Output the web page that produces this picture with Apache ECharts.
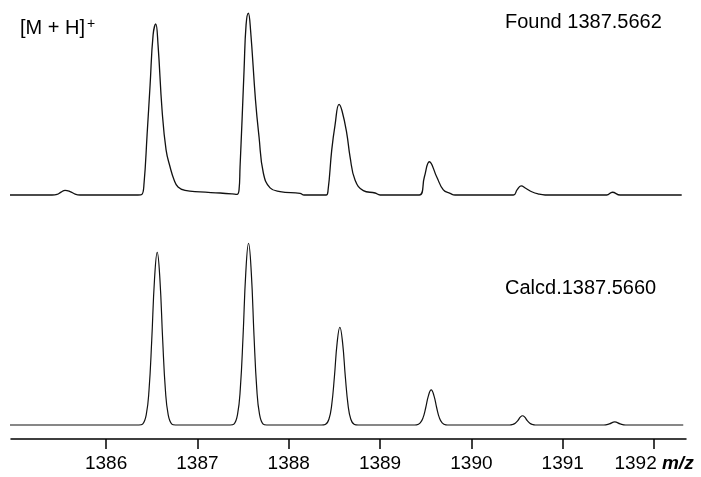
<!DOCTYPE html>
<html>
<head>
<meta charset="utf-8">
<script src="https://cdn.jsdelivr.net/npm/echarts@6/dist/echarts.min.js"></script>
<style>
html,body{margin:0;padding:0;background:#fff;}
#chart{width:701px;height:477px;}
</style>
</head>
<body>
<div id="chart"></div>
<script>
var foundMz = [1384.930, 1385.409, 1385.463, 1385.507, 1385.551, 1385.606, 1385.661, 1385.715,
  1386.350, 1386.391, 1386.416, 1386.449, 1386.482, 1386.515, 1386.544, 1386.569, 1386.613, 1386.657,
  1386.701, 1386.745, 1386.788, 1386.865, 1387.029, 1387.248, 1387.380, 1387.434,
  1387.456, 1387.467, 1387.489, 1387.511, 1387.533, 1387.558, 1387.582, 1387.636, 1387.675, 1387.722,
  1387.796, 1387.905, 1388.124, 1388.168,
  1388.409, 1388.431, 1388.471, 1388.507, 1388.551, 1388.584, 1388.635, 1388.672, 1388.726, 1388.817,
  1388.946, 1389.000,
  1389.430, 1389.485, 1389.540, 1389.621, 1389.693, 1389.767, 1389.821,
  1390.460, 1390.500, 1390.544, 1390.599, 1390.661, 1390.730, 1390.807,
  1391.482, 1391.544, 1391.628, 1392.303];
var foundIntensity = [0, 0, 0.3, 1.6, 2.6, 1.9, 0.5, 0,
  0, 0.3, 6.6, 33.0, 60.5, 88.1, 94.1, 82.6, 46.8, 24.8,
  15.4, 8.3, 4.4, 2.5, 1.7, 1.1, 0.6, 0.3,
  2.8, 15.4, 41.3, 68.8, 93.6, 100, 90.8, 52.3, 31.9, 12.1,
  3.9, 1.9, 0.9, 0,
  0, 2.8, 24.8, 38.5, 49.9, 46.2, 34.1, 20.9, 8.3, 2.4,
  1.1, 0,
  0, 9.9, 18.3, 9.9, 2.8, 0.9, 0,
  0, 2.8, 5.0, 3.6, 1.8, 0.6, 0,
  0, 1.5, 0, 0];

// Calculated isotope pattern
var calcdMz = [1384.940,
  1386.36, 1386.40, 1386.44, 1386.47, 1386.50, 1386.53, 1386.56, 1386.59, 1386.62, 1386.65, 1386.68, 1386.72, 1386.76,
  1387.36, 1387.40, 1387.44, 1387.47, 1387.50, 1387.53, 1387.56, 1387.59, 1387.62, 1387.65, 1387.68, 1387.72, 1387.76,
  1388.36, 1388.40, 1388.44, 1388.47, 1388.50, 1388.53, 1388.56, 1388.59, 1388.62, 1388.65, 1388.68, 1388.72, 1388.76,
  1389.36, 1389.40, 1389.44, 1389.47, 1389.50, 1389.53, 1389.56, 1389.59, 1389.62, 1389.65, 1389.68, 1389.72, 1389.76,
  1390.42, 1390.45, 1390.48, 1390.51, 1390.535, 1390.56, 1390.585, 1390.61, 1390.64, 1390.67, 1390.70,
  1391.45, 1391.51, 1391.57, 1391.63, 1391.69,
  1392.320];
var calcdIntensity = [0,
  0, 0.5, 5.7, 19.0, 46.6, 79.8, 95.0, 79.8, 46.6, 19.0, 5.7, 0.5, 0,
  0, 0.5, 6.0, 20.0, 49.0, 84.0, 100, 84.0, 49.0, 20.0, 6.0, 0.5, 0,
  0, 0.3, 3.2, 10.8, 26.4, 45.2, 53.8, 45.2, 26.4, 10.8, 3.2, 0.3, 0,
  0, 0.1, 1.2, 3.9, 9.5, 16.2, 19.3, 16.2, 9.5, 3.9, 1.2, 0.1, 0,
  0, 0.3, 1.0, 2.5, 4.3, 5.1, 4.3, 2.5, 1.0, 0.3, 0,
  0, 0.6, 1.7, 0.6, 0,
  0];

var tickValues = [1386, 1387, 1388, 1389, 1390, 1391, 1392];
var axisUnit = 'm/z';
var foundLabel = 'Found 1387.5662';
var calcdLabel = 'Calcd.1387.5660';
var ionLabel = '[M + H]';

function pairs(xs, ys) {
  var out = [];
  for (var i = 0; i < xs.length; i++) out.push([xs[i], ys[i]]);
  return out;
}

var FONT = '"Liberation Sans", Arial, Helvetica, sans-serif';
var chart = echarts.init(document.getElementById('chart'), null, {renderer: 'canvas'});

var option = {
  backgroundColor: '#ffffff',
  animation: false,
  grid: [
    {left: 11, right: 15, top: 6, height: 189},
    {left: 11, right: 15, top: 236, height: 203}
  ],
  xAxis: [
    {gridIndex: 0, type: 'value', min: 1384.959, max: 1392.35, show: false},
    {
      gridIndex: 1, type: 'value', min: 1384.959, max: 1392.35,
      splitLine: {show: false},
      axisLine: {show: true, onZero: false, lineStyle: {color: '#000', width: 1.5}},
      axisTick: {show: true, inside: false, length: 10, customValues: tickValues,
        lineStyle: {color: '#000', width: 1.5}},
      axisLabel: {
        show: true, customValues: tickValues, margin: 15,
        fontFamily: FONT, fontSize: 19, color: '#000',
        formatter: function (v) {
          return v === 1392 ? v + ' {i|' + axisUnit + '}' : String(v);
        },
        rich: {
          i: {fontFamily: FONT, fontSize: 19, fontStyle: 'italic', fontWeight: 'bold', color: '#000'}
        }
      }
    }
  ],
  yAxis: [
    {gridIndex: 0, type: 'value', min: 0, max: 104, show: false},
    {gridIndex: 1, type: 'value', min: -7.7, max: 104, show: false}
  ],
  series: [
    {
      name: 'Found', type: 'line', xAxisIndex: 0, yAxisIndex: 0,
      data: pairs(foundMz, foundIntensity),
      showSymbol: false, smooth: 0.45, clip: false,
      lineStyle: {color: '#111', width: 1.3}
    },
    {
      name: 'Calcd', type: 'line', xAxisIndex: 1, yAxisIndex: 1,
      data: pairs(calcdMz, calcdIntensity),
      showSymbol: false, smooth: 0.45, clip: false,
      lineStyle: {color: '#111', width: 1.2}
    }
  ],
  graphic: [
    {
      type: 'text', left: 20, top: 17,
      style: {
        text: ionLabel + '{sup|+}',
        fontFamily: FONT, fontSize: 20, fill: '#000',
        rich: {sup: {fontFamily: FONT, fontSize: 14, fill: '#000', verticalAlign: 'top', padding: [0, 0, 8, 2]}}
      }
    },
    {
      type: 'text', x: 505, y: 22,
      style: {text: foundLabel, fontFamily: FONT, fontSize: 20, fill: '#000', verticalAlign: 'middle'}
    },
    {
      type: 'text', x: 505, y: 288,
      style: {text: calcdLabel, fontFamily: FONT, fontSize: 20, fill: '#000', verticalAlign: 'middle'}
    }
  ]
};
chart.setOption(option);
</script>
</body>
</html>
